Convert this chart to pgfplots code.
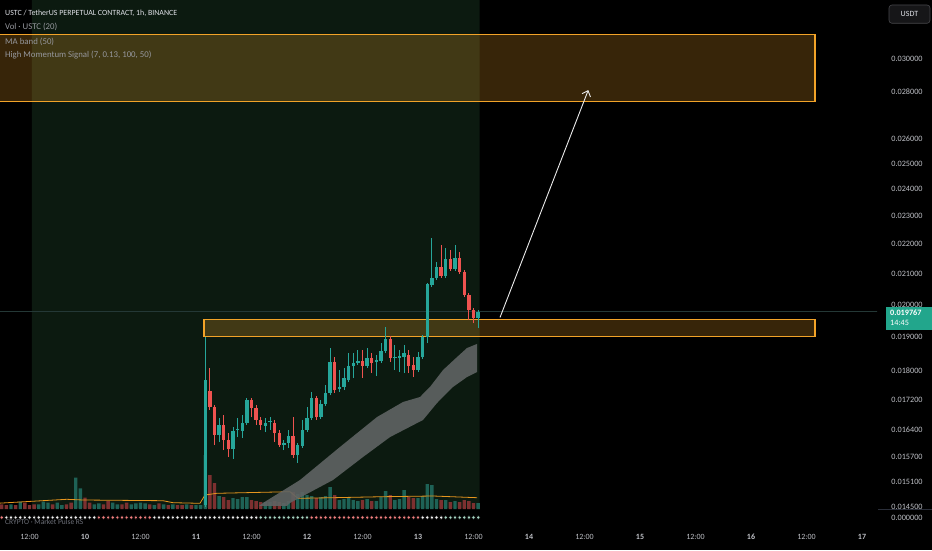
\documentclass[border=0pt]{standalone}
\usepackage{fontspec}
\setmainfont{Carlito}
\usepackage{pgfplots}
\pgfplotsset{compat=1.18}
\usepackage{pgfplotstable}
\usetikzlibrary{arrows.meta}

\definecolor{bggreen}{RGB}{12,26,16}
\definecolor{cgreen}{RGB}{38,166,154}
\definecolor{cred}{RGB}{239,83,80}
\definecolor{vgreen}{RGB}{30,98,86}
\definecolor{vred}{RGB}{125,48,48}
\definecolor{boxor}{RGB}{242,163,40}
\definecolor{bandgray}{RGB}{96,100,100}
\definecolor{lbl}{RGB}{190,192,198}
\definecolor{pinkdot}{RGB}{242,128,128}
\definecolor{mintdot}{RGB}{168,214,196}
\definecolor{whitedot}{RGB}{240,240,240}
\definecolor{maorange}{RGB}{230,150,30}
\definecolor{tvteal}{RGB}{34,166,140}
\definecolor{pline}{RGB}{36,56,54}
\definecolor{titletext}{RGB}{222,224,230}
\definecolor{subtext}{RGB}{150,152,158}
\definecolor{dimtext}{RGB}{110,113,122}

\pgfplotstableread{
t o hi lo c
26 0.014554 0.018991 0.014508 0.017741
29 0.016259 0.016704 0.016081 0.016521
32 0.015904 0.016469 0.015654 0.016364
33 0.016390 0.016704 0.016207 0.016416
34 0.016364 0.016784 0.016182 0.016573
35 0.016573 0.017242 0.016521 0.017188
39 0.016495 0.016704 0.016338 0.016573
40 0.016599 0.016730 0.016390 0.016626
43 0.016005 0.016132 0.015879 0.016056
44 0.016056 0.016390 0.015930 0.016233
46 0.015753 0.016056 0.015555 0.016005
47 0.015980 0.016652 0.015930 0.016390
48 0.016390 0.016999 0.016338 0.016704
49 0.016704 0.017408 0.016652 0.017242
51 0.016730 0.017188 0.016678 0.017080
52 0.017080 0.017602 0.017026 0.017380
53 0.017380 0.018665 0.017324 0.018255
55 0.017491 0.018025 0.017408 0.017547
56 0.017547 0.018083 0.017463 0.017797
57 0.017741 0.018517 0.017686 0.018140
58 0.018140 0.018517 0.017797 0.018226
59 0.018226 0.018606 0.018169 0.018284
61 0.018140 0.018665 0.018083 0.018370
63 0.018255 0.018457 0.017853 0.018312
64 0.018284 0.018813 0.018226 0.018576
65 0.018576 0.019297 0.018517 0.018932
67 0.018370 0.018754 0.018025 0.018398
68 0.018370 0.018606 0.017968 0.018428
69 0.018398 0.018754 0.017939 0.018517
72 0.018025 0.018546 0.017968 0.018398
73 0.018398 0.019052 0.018341 0.018991
74 0.018991 0.020690 0.018813 0.020657
75 0.020624 0.022218 0.020559 0.020853
76 0.020853 0.021390 0.020787 0.021221
78 0.020919 0.021870 0.020853 0.021491
80 0.021154 0.021975 0.021087 0.021524
85 0.019572 0.019823 0.019266 0.019767
}\greencandles

\pgfplotstableread{
t o hi lo c
27 0.017435 0.018083 0.016919 0.016999
28 0.016999 0.017053 0.016005 0.016259
30 0.016521 0.016784 0.015879 0.016132
31 0.016132 0.016312 0.015703 0.015904
36 0.017188 0.017242 0.016730 0.016972
37 0.016972 0.017053 0.016521 0.016652
38 0.016652 0.016730 0.016390 0.016521
41 0.016573 0.016652 0.016081 0.016312
42 0.016312 0.016390 0.015955 0.016005
45 0.016233 0.016730 0.015678 0.015753
50 0.017242 0.017296 0.016652 0.016730
54 0.018255 0.018398 0.017380 0.017463
60 0.018284 0.018606 0.017797 0.018140
62 0.018370 0.018517 0.017939 0.018226
66 0.018932 0.019021 0.018255 0.018370
70 0.018457 0.018606 0.017939 0.018140
71 0.018169 0.018398 0.017825 0.018025
77 0.021221 0.021975 0.020853 0.020919
79 0.021491 0.021801 0.021087 0.021154
81 0.021524 0.021731 0.020986 0.021053
82 0.021053 0.021120 0.020234 0.020298
83 0.020298 0.020364 0.019511 0.019823
84 0.019823 0.019886 0.019419 0.019572
}\redcandles

\pgfplotstableread{
t v
-16 4.7
-14 7.3
-10 4.7
-9 7.3
-8 6.3
-6 6.3
-5 4
-2 31.3
-1 20.7
2 4.7
3 5.7
6 6.3
7 4.7
10 4.7
11 5.7
12 6.3
13 5.7
15 4
17 4.7
19 4.7
22 4.7
24 4
25 4
26 54
29 13
32 11
33 10
34 12
35 12
39 7
40 7
43 6
44 8
46 15
47 17
48 14
49 13
51 12
52 13
53 22
55 9
56 10
57 11
58 9
59 8
61 10
63 8
64 12
65 18
67 9
68 10
69 19
72 11
73 13
74 25
75 24
76 10
78 9
80 8
85 6
}\greenvol

\pgfplotstableread{
t v
-18 4.7
-17 4
-15 4
-13 6.3
-12 4
-11 4.7
-7 4.7
-4 4.7
-3 6.3
0 11.3
1 6.3
4 4.7
5 8
8 4.7
9 6.3
14 4.7
16 5.7
18 4
20 4
21 4
23 4
27 34
28 26
30 12
31 9
36 9
37 8
38 7
41 8
42 7
45 17
50 11
54 14
60 9
62 8
66 14
70 12
71 11
77 9
79 7
81 7
82 9
83 8
84 6
}\redvol

\begin{document}
\begin{tikzpicture}[x=1pt,y=1pt]
\fill[black] (0,0) rectangle (932,550);
\node[anchor=west, inner sep=0pt, font=\fontsize{7.5}{9}\selectfont, text=dimtext] at (5,28.3) {CRYPTO · Market Pulse RS};

% ---- volume / background / indicator axis
\begin{axis}[at={(0pt,21pt)}, anchor=south west, scale only axis,
  width=877pt, height=529pt, xmin=-18.378, xmax=171.24, ymin=-20, ymax=509,
  hide axis]
  \addplot[fill=bggreen, draw=none] coordinates {(-11.46,1) (85.3,1) (85.3,509) (-11.46,509) (-11.46,1)};
  \addplot[ybar, bar width=3.3pt, bar shift=0pt, fill=vgreen, draw=none] table[x=t, y=v] {\greenvol};
  \addplot[ybar, bar width=3.3pt, bar shift=0pt, fill=vred, draw=none] table[x=t, y=v] {\redvol};
  \addplot[maorange, line width=0.8pt] coordinates {(-19,5.7) (-3.96,9.7) (-0.43,9) (16.86,8.3) (19.03,6.3) (24.86,5.7) (25.95,14) (28.48,15.7) (44.32,17.3) (46.05,10.7) (53.62,11.3) (64.43,12.3) (75.24,13) (84.76,11.3)};
  \addplot[only marks, mark=*, mark size=1.9pt, mark options={draw=none, fill=whitedot}] coordinates {
   (-17,-8.5)(-16,-8.5)(-15,-8.5)(-14,-8.5)(-13,-8.5)(-12,-8.5)(-11,-8.5)(-10,-8.5)(-9,-8.5)(-8,-8.5)
   (-7,-8.5)(-6,-8.5)(-5,-8.5)(-4,-8.5)(-3,-8.5)(-2,-8.5)(-1,-8.5)(0,-8.5)(1,-8.5)(2,-8.5)
   (15,-8.5)(16,-8.5)(17,-8.5)(18,-8.5)(19,-8.5)(20,-8.5)(21,-8.5)(22,-8.5)(23,-8.5)(24,-8.5)
   (25,-8.5)(26,-8.5)(27,-8.5)(28,-8.5)(29,-8.5)(30,-8.5)(31,-8.5)(32,-8.5)(33,-8.5)(34,-8.5)
   (35,-8.5)(36,-8.5)(37,-8.5)(73,-8.5)(74,-8.5)(75,-8.5)(76,-8.5)(77,-8.5)};
  \addplot[only marks, mark=*, mark size=1.9pt, mark options={draw=none, fill=pinkdot}] coordinates {
   (-18,-8.5)(3,-8.5)(4,-8.5)(5,-8.5)(6,-8.5)(7,-8.5)(8,-8.5)(9,-8.5)(10,-8.5)(11,-8.5)(12,-8.5)
   (13,-8.5)(14,-8.5)(49,-8.5)(50,-8.5)(51,-8.5)(52,-8.5)(53,-8.5)(54,-8.5)(55,-8.5)(56,-8.5)
   (57,-8.5)(58,-8.5)(59,-8.5)(60,-8.5)(61,-8.5)(62,-8.5)(63,-8.5)(64,-8.5)(65,-8.5)(66,-8.5)
   (67,-8.5)(68,-8.5)(69,-8.5)(70,-8.5)(71,-8.5)(72,-8.5)};
  \addplot[only marks, mark=*, mark size=1.9pt, mark options={draw=none, fill=mintdot}] coordinates {
   (38,-8.5)(39,-8.5)(40,-8.5)(41,-8.5)(42,-8.5)(43,-8.5)(44,-8.5)(45,-8.5)(46,-8.5)(47,-8.5)
   (48,-8.5)(78,-8.5)(79,-8.5)(80,-8.5)(81,-8.5)(82,-8.5)(83,-8.5)(84,-8.5)(85,-8.5)};
\end{axis}

% ---- price axis
\begin{axis}[at={(0pt,21pt)}, anchor=south west, scale only axis,
  width=877pt, height=529pt, xmin=-18.378, xmax=171.24,
  ymode=log, ymin=0.014009, ymax=0.032398,
  axis line style={draw=none}, major tick length=0pt, minor tick length=0pt,
  xtick={-12,0,12,24,36,48,60,72,84,96,108,120,132,144,156,168},
  xticklabels={12:00,\textbf{10},12:00,\textbf{11},12:00,\textbf{12},12:00,\textbf{13},12:00,\textbf{14},12:00,\textbf{15},12:00,\textbf{16},12:00,\textbf{17}},
  xticklabel style={anchor=center, yshift=-8pt, inner sep=0pt, font=\fontsize{8}{9}\selectfont, text=lbl},
  ytick={0.0145,0.0151,0.0157,0.0164,0.0172,0.018,0.019,0.020,0.021,0.022,0.023,0.024,0.025,0.026,0.028,0.02949},
  yticklabels={0.014500,0.015100,0.015700,0.016400,0.017200,0.018000,0.019000,0.020000,0.021000,0.022000,0.023000,0.024000,0.025000,0.026000,0.028000,0.030000},
  yticklabel pos=right,
  yticklabel style={anchor=center, xshift=30pt, inner sep=0pt, font=\fontsize{8.2}{9}\selectfont, text=lbl},
  ]
  % target zone boxes
  \addplot[draw=boxor, line width=1.2pt, fill=boxor, fill opacity=0.23] coordinates {(-19,0.030683) (157.84,0.030683) (157.84,0.027573) (-19,0.027573) (-19,0.030683)};
  \addplot[draw=boxor, line width=1.2pt, fill=boxor, fill opacity=0.23] coordinates {(25.73,0.019531) (157.84,0.019531) (157.84,0.01901) (25.73,0.01901) (25.73,0.019531)};
  % last price line
  \addplot[draw=pline, line width=0.8pt] coordinates {(-19,0.019767) (172,0.019767)};
  % MA band (upper edge, then lower edge backwards)
  \addplot[fill=bandgray, fill opacity=0.9, draw=none, no markers] coordinates {
    (37.62,0.014531) (38.49,0.014600) (46.49,0.015141) (55.14,0.015955) (63.14,0.016730)
    (68.76,0.017134) (72.43,0.017269) (74.59,0.017547) (77.41,0.018025) (80.43,0.018398)
    (82.59,0.018665) (84.76,0.018784)
    (84.76,0.017968) (82.59,0.017825) (79.57,0.017547) (76.11,0.017107) (73.08,0.016652)
    (65.95,0.016207) (60.11,0.015703) (53.62,0.015141) (44.32,0.014600) (43.68,0.014531)
    (37.62,0.014531)};
  % candles: wicks
  \addplot[draw=none, no markers, forget plot, error bars/.cd, y dir=plus, y explicit, error mark=none,
    error bar style={line width=1pt, draw=cgreen}]
    table[x=t, y=lo, y error plus expr=\thisrow{hi}-\thisrow{lo}] {\greencandles};
  \addplot[draw=none, no markers, forget plot, error bars/.cd, y dir=plus, y explicit, error mark=none,
    error bar style={line width=1pt, draw=cred}]
    table[x=t, y=lo, y error plus expr=\thisrow{hi}-\thisrow{lo}] {\redcandles};
  % candles: bodies
  \addplot[draw=none, no markers, forget plot, error bars/.cd, y dir=plus, y explicit, error mark=none,
    error bar style={line width=3.4pt, line cap=butt, draw=cgreen}]
    table[x=t, y=o, y error plus expr=\thisrow{c}-\thisrow{o}] {\greencandles};
  \addplot[draw=none, no markers, forget plot, error bars/.cd, y dir=plus, y explicit, error mark=none,
    error bar style={line width=3.4pt, line cap=butt, draw=cred}]
    table[x=t, y=c, y error plus expr=\thisrow{o}-\thisrow{c}] {\redcandles};
  % projection arrow
  \addplot[draw={rgb,255:red,235;green,235;blue,235}, line width=0.9pt, -{Straight Barb[length=5pt,width=9pt]}] coordinates {(89.73,0.019594) (108.82,0.028090)};
\end{axis}

% ---- legend texts, top left
\node[anchor=west, inner sep=0pt, font=\fontsize{7.9}{10}\selectfont, text=titletext] at (5,537) {USTC / TetherUS PERPETUAL CONTRACT, 1h, BINANCE};
\node[anchor=west, inner sep=0pt, font=\fontsize{8.8}{10}\selectfont, text=subtext] at (5,523.3) {Vol · USTC (20)};
\node[anchor=west, inner sep=0pt, font=\fontsize{8.8}{10}\selectfont, text=subtext] at (5,508.3) {MA band (50)};
\node[anchor=west, inner sep=0pt, font=\fontsize{8.8}{10}\selectfont, text=subtext] at (5,495) {High Momentum Signal (7, 0.13, 100, 50)};

% ---- price scale extras
\fill[black] (878,25) rectangle (932,40.7);
\draw[draw={rgb,255:red,42;green,46;blue,57}, line width=0.8pt] (878,40.7) -- (932,40.7);
\node[anchor=center, inner sep=0pt, font=\fontsize{8.2}{9}\selectfont, text=lbl] at (907,32) {0.000000};
\draw[rounded corners=3pt, fill={rgb,255:red,22;green,22;blue,24}, draw={rgb,255:red,70;green,70;blue,74}, line width=0.6pt] (889,526.7) rectangle (930,545);
\node[anchor=center, inner sep=0pt, font=\fontsize{8}{9}\selectfont, text=titletext] at (909.5,535.9) {USDT};
\fill[tvteal] (886,220) rectangle (932,243.3);
\node[anchor=west, inner sep=0pt, font=\bfseries\fontsize{8.2}{9}\selectfont, text=white] at (890,237.3) {0.019767};
\node[anchor=west, inner sep=0pt, font=\fontsize{8.2}{9}\selectfont, text=white] at (890,226.7) {14:45};

\pgfresetboundingbox
\path[use as bounding box] (0,0) rectangle (932,550);
\end{tikzpicture}
\end{document}
